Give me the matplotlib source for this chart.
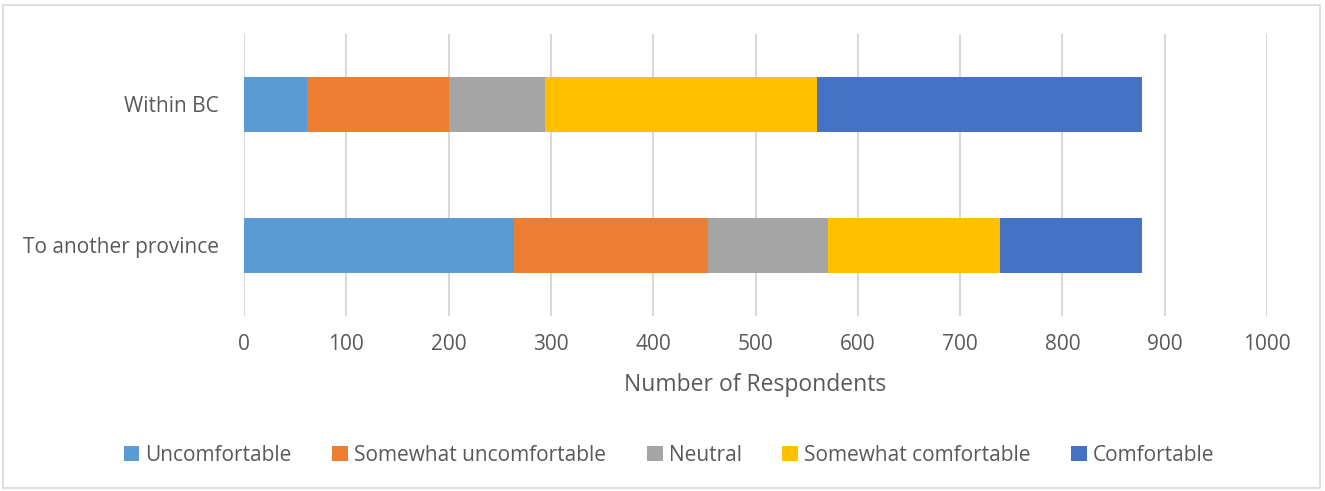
import numpy as np
import matplotlib.pyplot as plt
from matplotlib.patches import Rectangle

plt.rcParams['font.family'] = ['Open Sans', 'DejaVu Sans']

# data
categories = ['Within BC', 'To another province']
series_names = ['Uncomfortable', 'Somewhat uncomfortable', 'Neutral',
                'Somewhat comfortable', 'Comfortable']
within_bc = [62, 138, 94, 266, 318]
another_prov = [264, 190, 117, 168, 139]
colors = ['#5b9bd5', '#ed7d31', '#a5a5a5', '#ffc000', '#4472c4']
xticks = [0, 100, 200, 300, 400, 500, 600, 700, 800, 900, 1000]

txt = '#595959'

fig = plt.figure(figsize=(13.25, 4.91), dpi=100)
ax = fig.add_axes([244/1325, 1 - 315.5/491, (1267-244)/1325, (315.5-34)/491])

vals = np.array([within_bc, another_prov])
ypos = np.arange(len(categories))
left = np.zeros(len(categories))
for i, name in enumerate(series_names):
    ax.barh(ypos, vals[:, i], left=left, height=0.39, color=colors[i],
            label=name, zorder=3)
    left += vals[:, i]

ax.set_xlim(0, 1000)
ax.set_ylim(1.5, -0.5)
ax.set_yticks(ypos)
ax.set_yticklabels(categories)
ax.set_xticks(xticks)
ax.grid(axis='x', color='#d9d9d9', linewidth=1.5, zorder=0)
for s in ax.spines.values():
    s.set_visible(False)
ax.tick_params(axis='both', length=0, colors=txt, labelsize=15)
ax.tick_params(axis='y', pad=18)
ax.tick_params(axis='x', pad=13)
ax.set_xlabel('Number of Respondents', color=txt, fontsize=16.5, labelpad=13)

fig.legend(loc='center', bbox_to_anchor=(0.505, 0.073), ncol=5, frameon=False,
           fontsize=15, labelcolor=txt, handlelength=0.75, handleheight=0.75,
           handletextpad=0.3, columnspacing=1.95)

fig.patches.append(Rectangle((3/1325, 3/491), 1317/1325, 483/491,
                             transform=fig.transFigure, fill=False,
                             edgecolor='#d9d9d9', linewidth=1.2))

fig.savefig('out.png', dpi=100)
